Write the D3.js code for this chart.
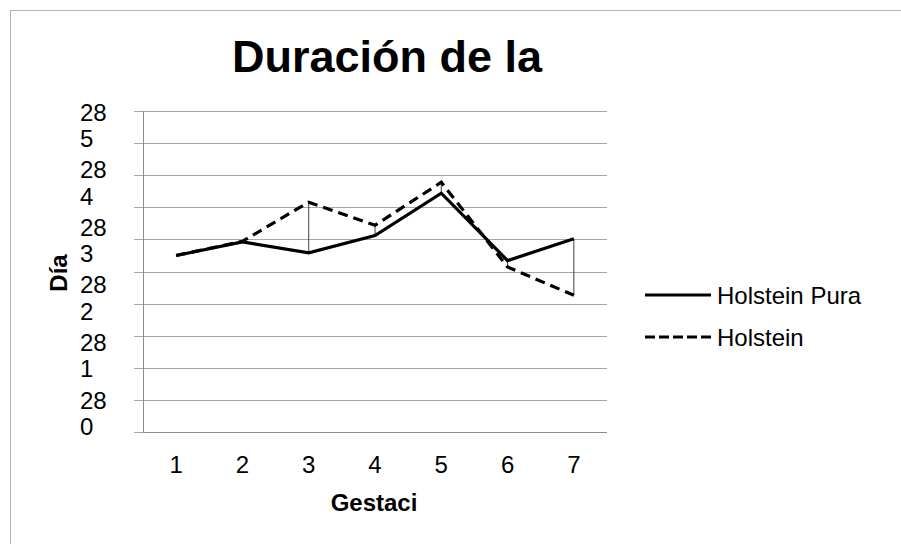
<!DOCTYPE html>
<html>
<head>
<meta charset="utf-8">
<script src="https://cdn.jsdelivr.net/npm/d3@7"></script>
<style>
  body { margin: 0; background: #fff; }
  text { font-family: "Liberation Sans", Arial, sans-serif; fill: #000; }
</style>
</head>
<body>
<script>
// chart data
var categories = ["1", "2", "3", "4", "5", "6", "7"];
var holsteinPura = [282.75, 282.96, 282.79, 283.06, 283.72, 282.67, 283.01];
var holstein = [282.75, 282.97, 283.58, 283.22, 283.89, 282.57, 282.13];
var yLabels = ["285", "284", "283", "282", "281", "280"];
var seriesNames = ["Holstein Pura", "Holstein"];

var width = 901,
    height = 544;

var svg = d3.select("body").append("svg")
    .attr("width", width)
    .attr("height", height);

// outer frame
svg.append("rect")
    .attr("x", 10.5).attr("y", 10.5)
    .attr("width", 900).attr("height", 540)
    .attr("fill", "none")
    .attr("stroke", "#b4b4b4");

// plot area (don't call it "top", that's window.top)
var plotLeft = 143, plotRight = 607, plotTop = 111, plotBottom = 432;

var x = d3.scalePoint()
    .domain(categories)
    .range([plotLeft, plotRight])
    .padding(0.5);

var y = d3.scaleLinear()
    .domain([280, 285])
    .range([plotBottom, plotTop]);

// gridlines + small outside ticks
svg.append("g")
    .selectAll("line")
    .data(y.ticks(10))
    .enter()
    .append("line")
      .attr("x1", plotLeft - 9)
      .attr("x2", plotRight)
      .attr("y1", function(d) { return Math.round(y(d)) + 0.5; })
      .attr("y2", function(d) { return Math.round(y(d)) + 0.5; })
      .attr("stroke", "#a6a6a6")
      .attr("stroke-width", 1);

// axis lines
svg.append("line")
    .attr("x1", plotLeft + 0.5).attr("x2", plotLeft + 0.5)
    .attr("y1", plotTop).attr("y2", plotBottom)
    .attr("stroke", "#8c8c8c");
svg.append("line")
    .attr("x1", plotLeft).attr("x2", plotRight)
    .attr("y1", plotBottom + 0.5).attr("y2", plotBottom + 0.5)
    .attr("stroke", "#8c8c8c");

// y labels: wrapped like excel did ("28" / "5")
var yl = d3.scalePoint()
    .domain(yLabels)
    .range([112, 400]);

var ylab = svg.append("g")
    .selectAll("text")
    .data(yLabels)
    .enter()
    .append("text")
      .attr("x", 80)
      .attr("y", function(d) { return yl(d) + 8.5; })
      .style("font-size", "24px");
ylab.append("tspan").text(function(d) { return d.slice(0, 2); });
ylab.append("tspan")
    .attr("x", 80)
    .attr("dy", 26.5)
    .text(function(d) { return d.slice(2); });

// x labels
svg.append("g")
    .selectAll("text")
    .data(categories)
    .enter()
    .append("text")
      .attr("x", function(d) { return x(d); })
      .attr("y", 473)
      .attr("text-anchor", "middle")
      .style("font-size", "24px")
      .text(function(d) { return d; });

// high-low lines
svg.append("g")
    .selectAll("line")
    .data(categories)
    .enter()
    .append("line")
      .attr("x1", function(d) { return x(d); })
      .attr("x2", function(d) { return x(d); })
      .attr("y1", function(d, i) { return y(holsteinPura[i]); })
      .attr("y2", function(d, i) { return y(holstein[i]); })
      .attr("stroke", "#404040")
      .attr("stroke-width", 1);

var line = d3.line()
    .x(function(d, i) { return x(categories[i]); })
    .y(function(d) { return y(d); });

svg.append("path")
    .datum(holstein)
    .attr("d", line)
    .attr("fill", "none")
    .attr("stroke", "#000")
    .attr("stroke-width", 3.2)
    .attr("stroke-dasharray", "10,6");

svg.append("path")
    .datum(holsteinPura)
    .attr("d", line)
    .attr("fill", "none")
    .attr("stroke", "#000")
    .attr("stroke-width", 3.2);

// titles
svg.append("text")
    .attr("x", 387)
    .attr("y", 72)
    .attr("text-anchor", "middle")
    .style("font-size", "45px")
    .style("font-weight", "bold")
    .text("Duración de la");

svg.append("text")
    .attr("x", 374)
    .attr("y", 511)
    .attr("text-anchor", "middle")
    .style("font-size", "24px")
    .style("font-weight", "bold")
    .text("Gestaci");

svg.append("text")
    .attr("transform", "translate(67,273) rotate(-90)")
    .attr("text-anchor", "middle")
    .style("font-size", "24px")
    .style("font-weight", "bold")
    .text("Día");

// legend
var legend = svg.append("g")
    .selectAll("g")
    .data(seriesNames)
    .enter()
    .append("g")
      .attr("transform", function(d, i) { return "translate(645," + (295 + i * 42) + ")"; });

legend.append("line")
    .attr("x1", 0).attr("x2", 66)
    .attr("stroke", "#000")
    .attr("stroke-width", 3.2)
    .attr("stroke-dasharray", function(d, i) { return i == 1 ? "10,4" : null; });

legend.append("text")
    .attr("x", 72)
    .attr("y", 8.5)
    .style("font-size", "24px")
    .text(function(d) { return d; });
</script>
</body>
</html>
